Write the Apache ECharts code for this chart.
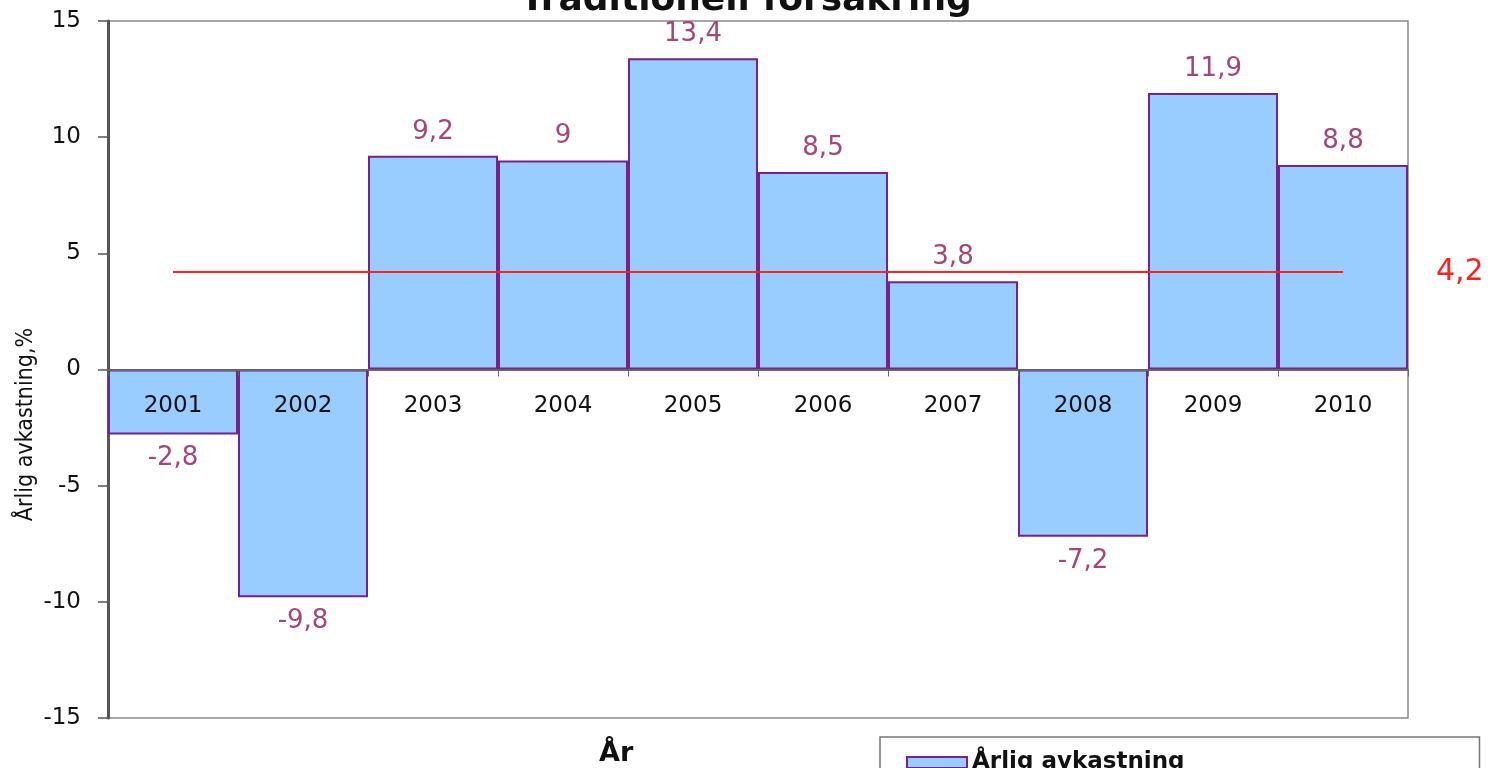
<!DOCTYPE html>
<html>
<head>
<meta charset="utf-8">
<script src="https://cdn.jsdelivr.net/npm/echarts@6/dist/echarts.min.js"></script>
<style>
  html, body { margin: 0; padding: 0; background: #fff; }
  #chart { width: 1492px; height: 768px; }
</style>
</head>
<body>
<div id="chart"></div>
<script>
// Data
const years = ['2001', '2002', '2003', '2004', '2005', '2006', '2007', '2008', '2009', '2010']
const returns = [-2.8, -9.8, 9.2, 9, 13.4, 8.5, 3.8, -7.2, 11.9, 8.8]
const averageLine = [4.2, 4.2, 4.2, 4.2, 4.2, 4.2, 4.2, 4.2, 4.2, 4.2]
const yTicks = { min: -15, max: 15, interval: 5 }

// the source picture is stretched sideways, so a wide face fits it best
const font = '"DejaVu Sans", Verdana, sans-serif'
const narrow = '"DejaVu Sans Condensed", "Liberation Sans Narrow", sans-serif'
const fmt = (v) => String(v).replace('.', ',')

const gridTop = 21
const gridBottom = 50
const plotHeight = 768 - gridTop - gridBottom

const chart = echarts.init(document.getElementById('chart'))

chart.setOption({
  animation: false,
  backgroundColor: '#fff',
  title: [
    {
      text: 'Traditionell försäkring',
      left: 'center',
      top: -22,
      textStyle: { fontFamily: font, fontSize: 36, fontWeight: 'bold', color: '#111' },
    },
    {
      text: 'År',
      left: 594,
      top: 735,
      textStyle: { fontFamily: font, fontSize: 27, fontWeight: 'bold', color: '#111' },
    },
  ],
  legend: {
    data: ['Årlig avkastning'],
    left: 880,
    top: 737,
    padding: [14, 295, 40, 26],
    borderColor: '#777',
    borderWidth: 1.5,
    icon: 'rect',
    itemWidth: 60,
    itemHeight: 11,
    itemGap: 6,
    textStyle: { fontFamily: font, fontSize: 23, fontWeight: 'bold', color: '#111' },
  },
  grid: {
    left: 108,
    right: 84,
    top: gridTop,
    bottom: gridBottom,
    outerBoundsMode: 'none',
    containLabel: false,
    show: true,
    borderColor: '#8a8a8a',
    borderWidth: 1.5,
  },
  xAxis: {
    type: 'category',
    data: years,
    // category axis drawn along the zero line, labels just under it, above the bars
    offset: -plotHeight / 2,
    z: 10,
    axisLine: { onZero: false, lineStyle: { color: '#666', width: 2 } },
    axisTick: { show: true, length: 7, lineStyle: { color: '#666' } },
    axisLabel: { margin: 25, fontFamily: font, fontSize: 23, color: '#111' },
  },
  yAxis: {
    type: 'value',
    min: yTicks.min,
    max: yTicks.max,
    interval: yTicks.interval,
    name: 'Årlig avkastning,%',
    nameLocation: 'middle',
    nameGap: 70,
    nameMoveOverlap: false,
    nameRotate: 90,
    nameTextStyle: {
      fontFamily: narrow,
      fontSize: 23,
      color: '#111',
      padding: [0, 110, 0, 0],
    },
    axisLine: { show: true, onZero: false, lineStyle: { color: '#555', width: 3 } },
    axisTick: { show: true, length: 10, lineStyle: { color: '#555', width: 1.5 } },
    axisLabel: { margin: 27, fontFamily: font, fontSize: 23, color: '#111', formatter: (v) => String(v) },
    splitLine: { show: false },
  },
  series: [
    {
      name: 'Årlig avkastning',
      type: 'bar',
      data: returns.map((v) => (v < 0 ? { value: v, label: { position: 'bottom' } } : v)),
      barCategoryGap: 0,
      itemStyle: { color: '#99ccff', borderColor: '#7a1f8c', borderWidth: 2 },
      label: {
        show: true,
        position: 'top',
        distance: 11,
        fontFamily: font,
        fontSize: 26,
        color: '#a3477a',
        formatter: (p) => fmt(p.value),
      },
      z: 2,
    },
    {
      name: 'Medel',
      type: 'line',
      data: averageLine,
      symbol: 'none',
      lineStyle: { color: '#ff2020', width: 2 },
      z: 3,
      endLabel: {
        show: true,
        distance: 93,
        fontFamily: font,
        fontSize: 30,
        color: '#ff2020',
        formatter: (p) => fmt(p.value),
      },
    },
  ],
})
</script>
</body>
</html>
